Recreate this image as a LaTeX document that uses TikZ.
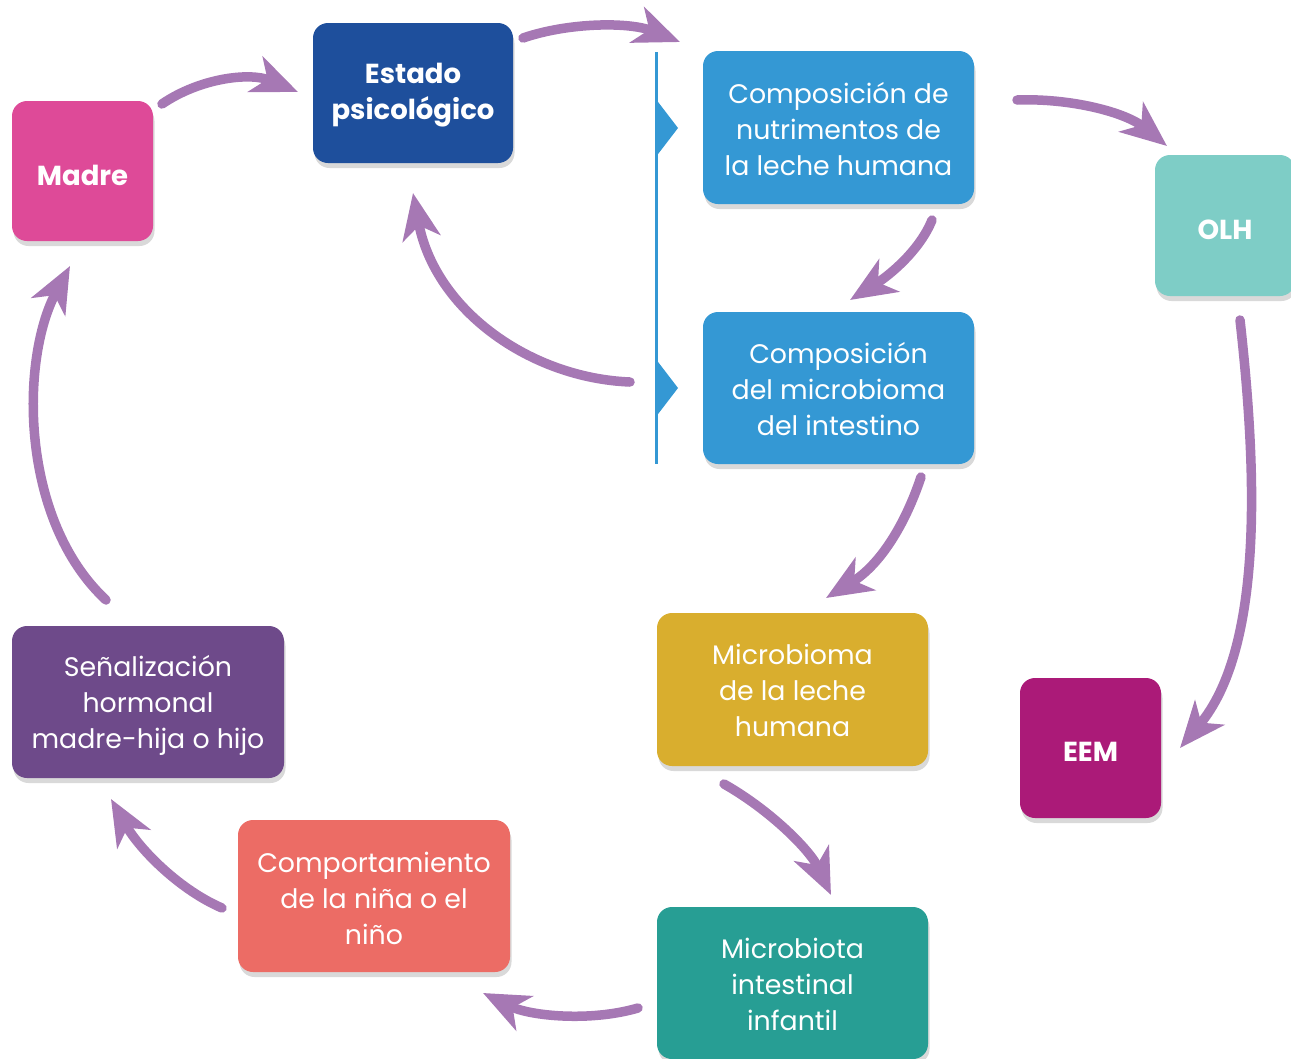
\documentclass[tikz,border=0pt]{standalone}
\usepackage{fontspec}
\setmainfont{Poppins}
\usetikzlibrary{arrows.meta,shadows}
\definecolor{cmadre}{HTML}{DE4A98}
\definecolor{cestado}{HTML}{1E4F9C}
\definecolor{cblue}{HTML}{3498D4}
\definecolor{colh}{HTML}{7ECDC6}
\definecolor{cgold}{HTML}{D9AE2E}
\definecolor{ceem}{HTML}{AB1A78}
\definecolor{cteal}{HTML}{279E94}
\definecolor{ccoral}{HTML}{EC6C65}
\definecolor{cviolet}{HTML}{6E4A8A}
\definecolor{carrow}{HTML}{A678B4}
\tikzset{
  box/.style={rounded corners=15pt, inner sep=0pt,
    drop shadow={shadow xshift=1.5pt, shadow yshift=-5pt, opacity=0.3, fill=black!50}},
  txt/.style={text=white, align=center, inner sep=0pt,
    font=\fontsize{26.8}{36}\selectfont},
  boldtxt/.style={txt, font=\fontsize{27.5}{36}\selectfont\bfseries},
  flow/.style={draw=carrow, line width=9.5pt, line cap=round,
    -{Stealth[length=46pt, width=38pt, inset=13pt]}},
}
\begin{document}
\begin{tikzpicture}[x=1pt, y=-1pt]
\useasboundingbox (0,0) rectangle (1291,1058);
% boxes
\node[box, fill=cmadre, minimum width=141pt, minimum height=140pt] (madre) at (82.5,171) {};
\node[box, fill=cestado, minimum width=200pt, minimum height=140pt] (estado) at (413,93) {};
\node[box, fill=cblue, minimum width=271pt, minimum height=153pt] (compn) at (838.5,127.5) {};
\node[box, fill=colh, minimum width=140pt, minimum height=141pt] (olh) at (1225,225.5) {};
\node[box, fill=cblue, minimum width=271pt, minimum height=152pt] (compm) at (838.5,388) {};
\node[box, fill=cgold, minimum width=271pt, minimum height=153pt] (microl) at (792.5,689.5) {};
\node[box, fill=ceem, minimum width=141pt, minimum height=140pt] (eem) at (1090.5,748) {};
\node[box, fill=cteal, minimum width=271pt, minimum height=152pt] (microb) at (792.5,983) {};
\node[box, fill=ccoral, minimum width=272pt, minimum height=152pt] (comp) at (374,896) {};
\node[box, fill=cviolet, minimum width=272pt, minimum height=152pt] (senal) at (148,702) {};
% texts
\node[boldtxt] (madret) at ([yshift=-4pt]madre.center) {Madre};
\node[boldtxt] (estadot) at ([yshift=-2pt]estado.center) {Estado\\psicológico};
\node[txt] (compnt) at ([yshift=-1.5pt]compn.center) {Composición de\\nutrimentos de\\la leche humana};
\node[boldtxt] (olht) at ([yshift=-4pt]olh.center) {OLH};
\node[txt] (compmt) at ([yshift=-1pt]compm.center) {Composición\\del microbioma\\del intestino};
\node[txt] (microlt) at ([yshift=-1pt]microl.center) {Microbioma\\de la leche\\humana};
\node[boldtxt] (eemt) at ([yshift=-4pt]eem.center) {EEM};
\node[txt] (microbt) at ([yshift=-1pt]microb.center) {Microbiota\\intestinal\\infantil};
\node[txt] (compt) at ([yshift=-2pt]comp.center) {Comportamiento\\de la niña o el\\niño};
\node[txt] (senalt) at ([yshift=-3.5pt]senal.center) {Señalización\\hormonal\\madre-hija o hijo};
% bracket line with markers
\coordinate (bt) at (656,52);
\coordinate (bb) at (656,464);
\draw[cblue, line width=3pt] (bt) -- (bb);
\fill[cblue] (655,98) -- (678,128) -- (655,158) -- cycle;
\fill[cblue] (655,358) -- (678,388) -- (655,418) -- cycle;
% arrow end coordinates
\coordinate (a1s) at (162,104); \coordinate (a1e) at (298,92);
\coordinate (a2s) at (523,38);  \coordinate (a2e) at (680,42);
\coordinate (a3s) at (1017,100); \coordinate (a3e) at (1167,146);
\coordinate (a4s) at (932,220); \coordinate (a4e) at (850,300);
\coordinate (a5s) at (630,382); \coordinate (a5e) at (413,193);
\coordinate (a6s) at (1240,320); \coordinate (a6e) at (1180,748);
\coordinate (a7s) at (921,477); \coordinate (a7e) at (826,598);
\coordinate (a8s) at (724,784); \coordinate (a8e) at (831,895);
\coordinate (a9s) at (638,1008); \coordinate (a9e) at (483,993);
\coordinate (a10s) at (222,908); \coordinate (a10e) at (111,799);
\coordinate (a11s) at (106,600); \coordinate (a11e) at (70,266);
% arrows
\draw[flow] (a1s) .. controls (200,78) and (250,72) .. (a1e);
\draw[flow] (a2s) .. controls (570,22) and (630,22) .. (a2e);
\draw[flow] (a3s) .. controls (1070,98) and (1125,112) .. (a3e);
\draw[flow] (a4s) .. controls (920,250) and (890,275) .. (a4e);
\draw[flow] (a5s) .. controls (530,378) and (435,310) .. (a5e);
\draw[flow] (a6s) .. controls (1258,480) and (1262,650) .. (a6e);
\draw[flow] (a7s) .. controls (905,525) and (880,565) .. (a7e);
\draw[flow] (a8s) .. controls (770,810) and (810,850) .. (a8e);
\draw[flow] (a9s) .. controls (590,1022) and (530,1016) .. (a9e);
\draw[flow] (a10s) .. controls (180,890) and (140,850) .. (a10e);
\draw[flow] (a11s) .. controls (20,520) and (20,360) .. (a11e);
\end{tikzpicture}
\end{document}
